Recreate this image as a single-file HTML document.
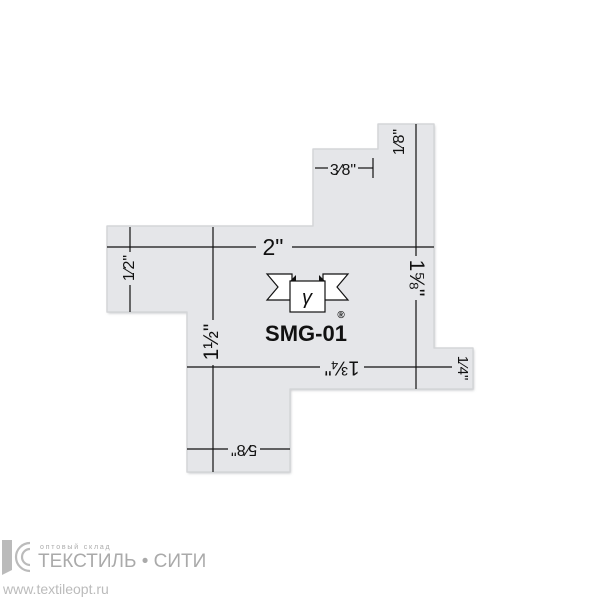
<!DOCTYPE html>
<html><head><meta charset="utf-8"><style>
html,body{margin:0;padding:0;background:#fff;width:600px;height:600px;overflow:hidden}
svg text{font-family:"Liberation Sans",sans-serif}
</style></head><body>
<svg width="600" height="600" viewBox="0 0 600 600" xmlns="http://www.w3.org/2000/svg">
<defs><filter id="sh" x="-10%" y="-10%" width="120%" height="120%"><feGaussianBlur stdDeviation="1.2"/></filter></defs>
<path d="M378,124 L434,124 L434,348 L473,348 L473,389 L290,389 L290,472 L187,472 L187,312 L107,312 L107,226 L313,226 L313,149 L378,149 Z" fill="#c8c9cc" filter="url(#sh)" transform="translate(1,1.5)"/>
<path d="M378,124 L434,124 L434,348 L473,348 L473,389 L290,389 L290,472 L187,472 L187,312 L107,312 L107,226 L313,226 L313,149 L378,149 Z" fill="#e5e6e9" stroke="#d4d5d8" stroke-width="1.5" stroke-linejoin="round"/>
<g stroke="#111" stroke-width="1.2" fill="none">
<line x1="107" y1="247" x2="256" y2="247"/><line x1="292" y1="247" x2="434" y2="247"/>
<line x1="130" y1="227" x2="130" y2="252"/><line x1="130" y1="285" x2="130" y2="312"/>
<line x1="213" y1="227" x2="213" y2="320"/><line x1="213" y1="365" x2="213" y2="472"/>
<line x1="416" y1="124" x2="416" y2="256"/><line x1="416" y1="300" x2="416" y2="389"/>
<line x1="187" y1="367" x2="320" y2="367"/><line x1="364" y1="367" x2="452" y2="367"/>
<line x1="187" y1="449" x2="228" y2="449"/><line x1="260" y1="449" x2="290" y2="449"/>
<line x1="315" y1="168" x2="328" y2="168"/><line x1="358" y1="168" x2="373" y2="168"/>
<line x1="373" y1="158" x2="373" y2="178"/>
</g>
<text x="273" y="255" font-size="23" text-anchor="middle" fill="#111">2"</text>
<text x="343" y="175" font-size="16" text-anchor="middle" fill="#111">3⁄8"</text>
<text transform="translate(404,142) rotate(-90)" font-size="16" text-anchor="middle" fill="#111">1⁄8"</text>
<text transform="translate(134,268) rotate(-90)" font-size="16" text-anchor="middle" fill="#111">1⁄2"</text>
<text transform="translate(218,342) rotate(-90)" font-size="21" text-anchor="middle" fill="#111">1½"</text>
<text transform="translate(410,278) rotate(90)" font-size="21" text-anchor="middle" fill="#111">1⅝"</text>
<text transform="translate(342,367) rotate(180)" font-size="20" text-anchor="middle" dominant-baseline="middle" fill="#111">1¾"</text>
<text transform="translate(458,368) rotate(90)" font-size="15" text-anchor="middle" fill="#111">1⁄4"</text>
<text transform="translate(244,449) rotate(180)" font-size="16" text-anchor="middle" dominant-baseline="middle" fill="#111">5⁄8"</text>
<g stroke="#111" stroke-width="1.2" fill="#fff">
<path d="M267,274 L292,274 L292,300 L267,300 L278,287 Z"/>
<path d="M348,274 L323,274 L323,300 L348,300 L337,287 Z"/>
<rect x="290" y="281" width="35" height="31"/>
</g>
<path d="M290,281 L296,275 L296,281 Z M325,281 L319,275 L319,281 Z" fill="#111"/>
<text x="307" y="304" font-size="20" font-style="italic" text-anchor="middle" fill="#111" font-family="Liberation Serif">γ</text>
<text x="341" y="318" font-size="10" font-weight="bold" text-anchor="middle" fill="#111">®</text>
<text x="306" y="341" font-size="22" font-weight="bold" text-anchor="middle" fill="#111">SMG-01</text>
<g fill="none" stroke="#bbb" stroke-width="2.2">
<path d="M30,543 A14,14 0 1 0 30,571"/><path d="M30,549 A8,8 0 1 0 30,565"/>
</g>
<path d="M2,540 L12,540 L12,570 L2,575 Z" fill="#bbb"/>
<text x="40" y="549" font-size="7" fill="#aaa" letter-spacing="1.8">оптовый склад</text>
<text x="38" y="567" font-size="19" fill="#aaa">ТЕКСТИЛЬ • СИТИ</text>
<text x="3" y="594" font-size="14" fill="#bbb">www.textileopt.ru</text>
</svg>
</body></html>
